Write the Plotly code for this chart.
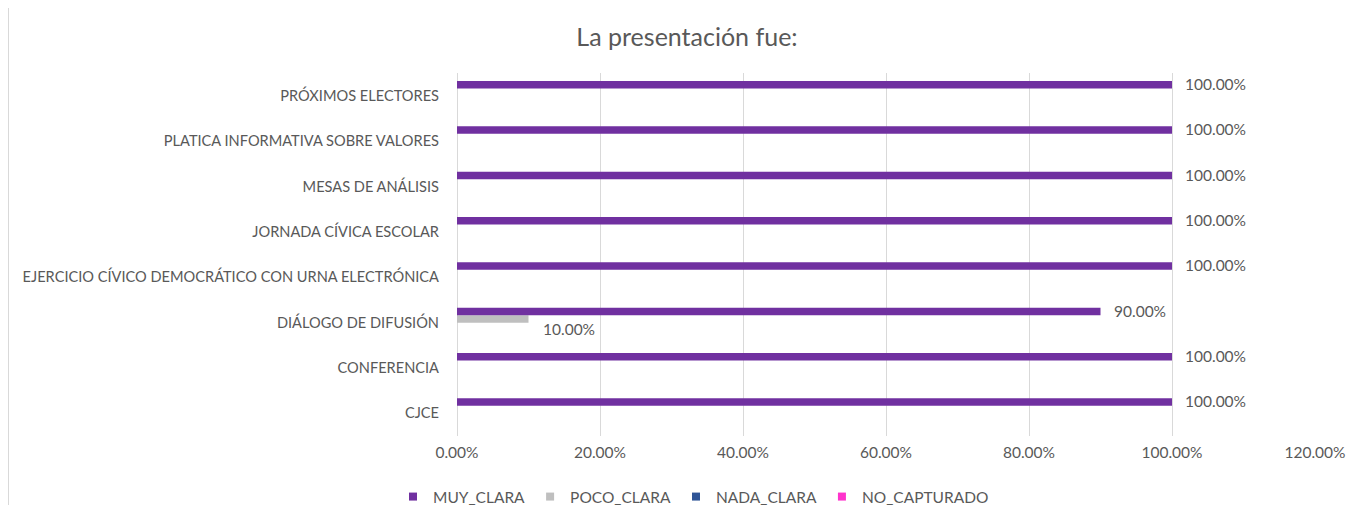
import plotly.graph_objects as go

categories = [
    "CJCE",
    "CONFERENCIA",
    "DIÁLOGO DE DIFUSIÓN",
    "EJERCICIO CÍVICO DEMOCRÁTICO CON URNA ELECTRÓNICA",
    "JORNADA CÍVICA ESCOLAR",
    "MESAS DE ANÁLISIS",
    "PLATICA INFORMATIVA SOBRE VALORES",
    "PRÓXIMOS ELECTORES",
]
muy_clara = [1.0, 1.0, 0.9, 1.0, 1.0, 1.0, 1.0, 1.0]
poco_clara = [0.0, 0.0, 0.1, 0.0, 0.0, 0.0, 0.0, 0.0]
nada_clara = [0.0] * 8
no_capturado = [0.0] * 8

series = [
    ("MUY_CLARA", muy_clara, "#7030A0"),
    ("POCO_CLARA", poco_clara, "#BFBFBF"),
    ("NADA_CLARA", nada_clara, "#2F5597"),
    ("NO_CAPTURADO", no_capturado, "#FF33CC"),
]

FONT = "Lato"
GREY = "#595959"

# the page body adds an 8px offset, so the figure is a bit smaller than the window
W, H = 1351, 501
L, R, T, B = 449, 44, 65, 73
PW, PH = W - L - R, H - T - B

fig = go.Figure()
# plotly stacks grouped horizontal bars bottom-up, so add in reverse
for name, vals, color in reversed(series):
    fig.add_trace(go.Bar(
        y=categories, x=vals, name=name, orientation="h",
        marker=dict(color=color, line=dict(width=0)),
        showlegend=False,
    ))

# small square legend keys
for name, vals, color in series:
    fig.add_trace(go.Scatter(
        x=[None], y=[None], mode="markers", name=name,
        marker=dict(symbol="square", size=8, color=color),
    ))

# data labels (only non-zero values), shifted onto their bar within the group
label_shift = {"MUY_CLARA": (11, 12), "POCO_CLARA": (12, -6)}
for name, vals, color in series:
    if name not in label_shift:
        continue
    dx, dy = label_shift[name]
    for cat, v in zip(categories, vals):
        if v <= 0:
            continue
        fig.add_annotation(
            x=v, y=cat, text=f"{v * 100:.2f}%", showarrow=False,
            xanchor="left", xshift=dx, yshift=dy,
            font=dict(family=FONT, size=15.5, color=GREY),
        )

# faint border line on the left edge
bx = (0.5 - L) / PW
fig.add_shape(type="line", xref="paper", yref="paper",
              x0=bx, x1=bx, y0=(T + PH - 497) / PH, y1=(T + PH + 3) / PH,
              line=dict(color="#D9D9D9", width=1))

fig.update_layout(
    width=W, height=H,
    margin=dict(l=L, r=R, t=T, b=B, autoexpand=False),
    paper_bgcolor="white", plot_bgcolor="white",
    barmode="group", bargap=0.34, bargroupgap=0,
    title=dict(text="La presentación fue:", x=679 / W, xanchor="center",
               y=1 - 29 / H, yanchor="middle",
               font=dict(family=FONT, size=25, color=GREY)),
    font=dict(family=FONT, size=15, color=GREY),
    xaxis=dict(range=[0, 1.2], dtick=0.2, tickformat=".2%",
               showgrid=True, gridcolor="#D9D9D9", gridwidth=1,
               zeroline=True, zerolinecolor="#D9D9D9", zerolinewidth=1,
               showline=False, ticks="", ticklen=0, ticklabelstandoff=5,
               tickfont=dict(family=FONT, size=15.5, color=GREY)),
    yaxis=dict(showgrid=False, zeroline=False, showline=False, ticks="",
               ticklabelstandoff=17,
               tickfont=dict(family=FONT, size=14.6, color=GREY)),
    legend=dict(orientation="h",
                x=(385 - L) / PW, xanchor="left",
                y=(T + PH - 489) / PH, yanchor="middle",
                font=dict(family=FONT, size=15.5, color=GREY),
                itemwidth=30, tracegroupgap=0),
    showlegend=True,
)

fig.write_html("out.html")
